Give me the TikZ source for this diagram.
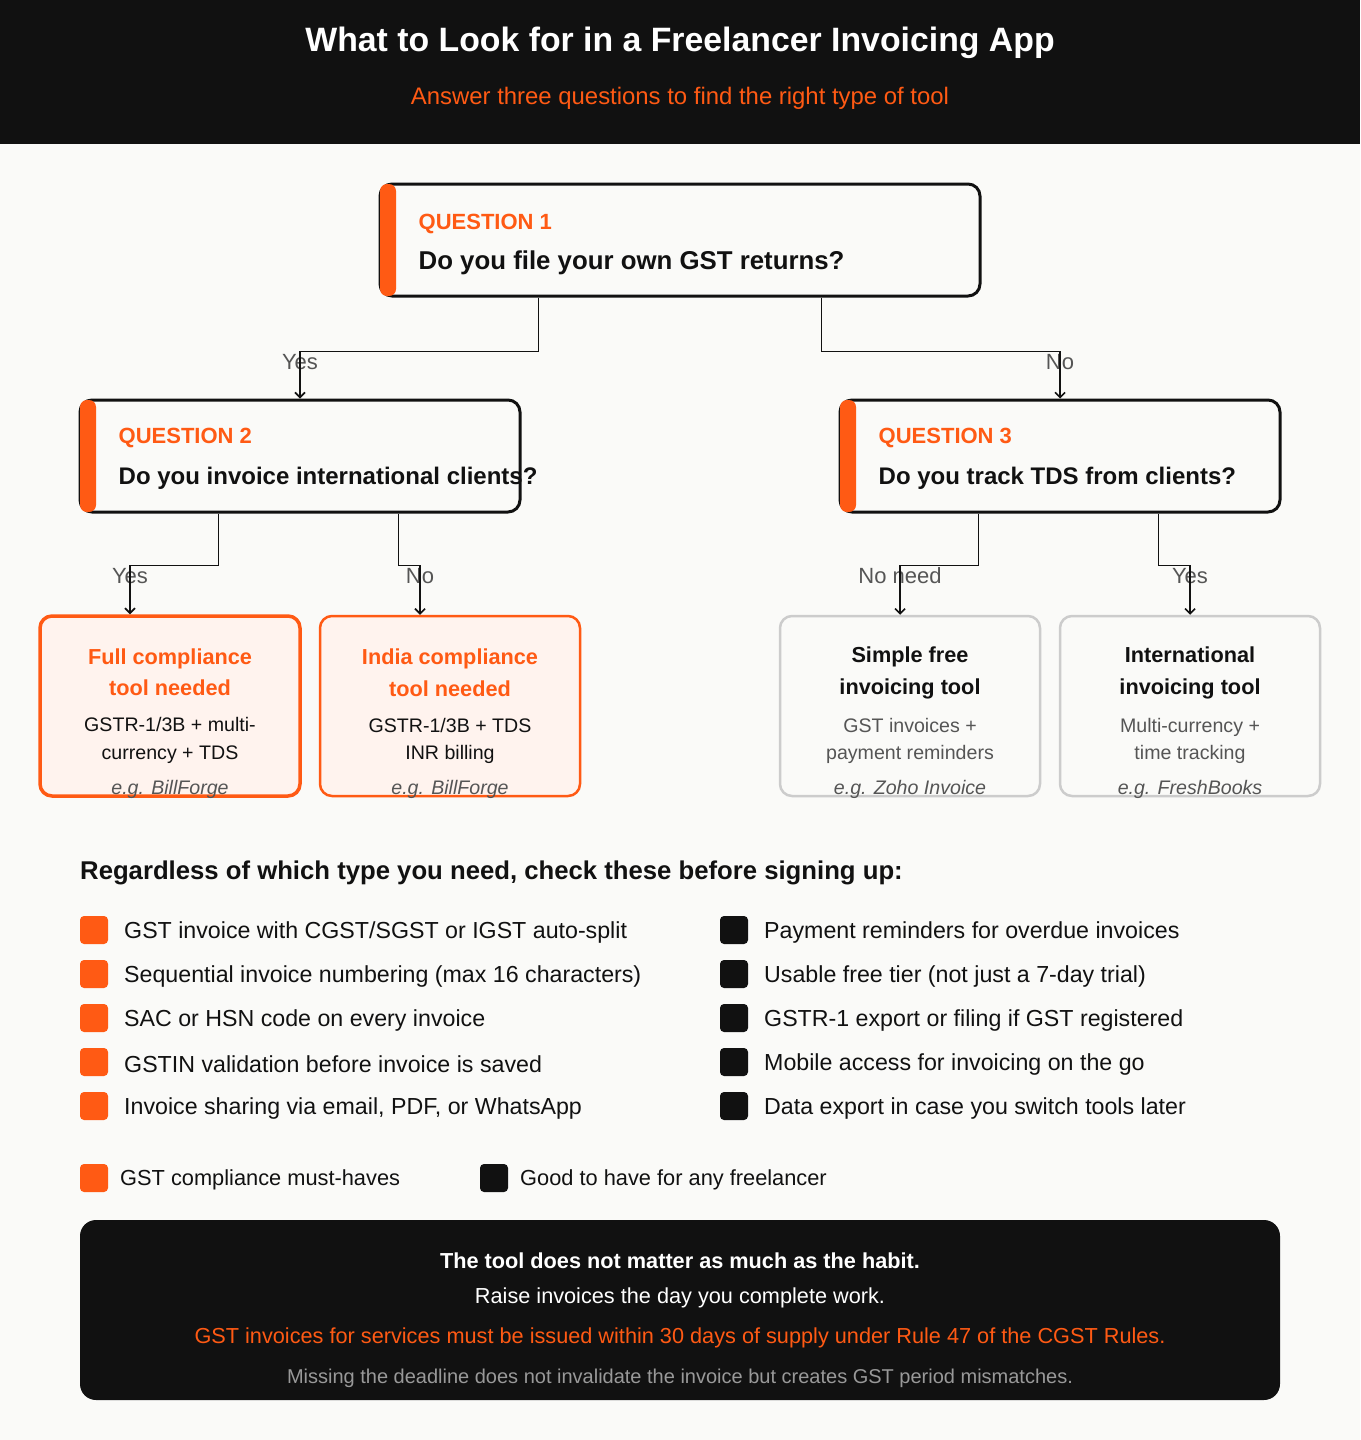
\documentclass[tikz,border=0pt]{standalone}
\usepackage{fontspec}
\setmainfont{Liberation Sans}
\usetikzlibrary{calc,arrows.meta}
\definecolor{brand}{HTML}{FF5A14}
\definecolor{ink}{HTML}{111111}
\definecolor{paper}{HTML}{FAFAF8}
\definecolor{blush}{HTML}{FFF3EE}
\definecolor{mute}{HTML}{555555}
\definecolor{edge}{HTML}{CCCCCC}
\newcommand{\fs}[1]{\fontsize{#1}{#1}\selectfont}
\tikzset{
  qbox/.style={draw=ink, line width=3pt, rounded corners=12pt, fill=paper, minimum width=600pt, minimum height=112pt, inner sep=0pt},
  rbox/.style={rounded corners=12pt, minimum width=260pt, minimum height=180pt, inner sep=0pt},
  conn/.style={draw=ink, line width=1.6pt, -{Straight Barb[length=5pt,width=10pt]}},
  lbl/.style={text=mute, font=\fs{22}},
  tick/.style={rounded corners=4pt, minimum size=28pt, inner sep=0pt},
  item/.style={anchor=west, font=\fs{23.2}, text=ink, inner sep=0pt}
}
\begin{document}
\begin{tikzpicture}[x=1pt,y=-1pt]
\useasboundingbox[fill=paper] (0,0) rectangle (1360,1440);
% header
\fill[ink] (0,0) rectangle (1360,144);
\node[font=\bfseries\fs{33.8}, text=white] (title) at (680,43) {What to Look for in a Freelancer Invoicing App};
\node[font=\fs{23.9}, text=brand] (sub) at (680,98) {Answer three questions to find the right type of tool};
% questions
\node[qbox] (q1) at (680,240) {};
\node[qbox, minimum width=440pt] (q2) at (300,456) {};
\node[qbox, minimum width=440pt] (q3) at (1060,456) {};
\fill[brand, rounded corners=7pt] (380,184) rectangle (396,296);
\fill[brand, rounded corners=7pt] (80,400) rectangle (96,512);
\fill[brand, rounded corners=7pt] (840,400) rectangle (856,512);
\node[item, font=\bfseries\fs{22}, text=brand] (q1tag) at ($(q1.west)+(40,-16)$) {QUESTION 1};
\node[item, font=\bfseries\fs{25.8}] (q1txt) at ($(q1.west)+(40,23)$) {Do you file your own GST returns?};
\node[item, font=\bfseries\fs{22}, text=brand] (q2tag) at ($(q2.west)+(40,-18)$) {QUESTION 2};
\node[item, font=\bfseries\fs{24}] (q2txt) at ($(q2.west)+(40,22)$) {Do you invoice international clients?};
\node[item, font=\bfseries\fs{22}, text=brand] (q3tag) at ($(q3.west)+(40,-18)$) {QUESTION 3};
\node[item, font=\bfseries\fs{24}] (q3txt) at ($(q3.west)+(40,22)$) {Do you track TDS from clients?};
% results
\node[rbox, draw=brand, line width=3.5pt, fill=blush] (full) at (170,706) {};
\node[rbox, draw=brand, line width=2.5pt, fill=blush] (india) at (450,706) {};
\node[rbox, draw=edge, line width=2.5pt, fill=paper] (free) at (910,706) {};
\node[rbox, draw=edge, line width=2.5pt, fill=paper] (intl) at (1190,706) {};
\node[align=center, font=\bfseries\fs{21.7}, text=brand, inner sep=0pt] at ($(full.north)+(0,58)$) {Full compliance\\[10pt]tool needed};
\node[align=center, font=\bfseries\fs{21.7}, text=brand, inner sep=0pt] at ($(india.north)+(0,58)$) {India compliance\\[10pt]tool needed};
\node[align=center, font=\bfseries\fs{21.7}, text=ink, inner sep=0pt] at ($(free.north)+(0,58)$) {Simple free\\[10pt]invoicing tool};
\node[align=center, font=\bfseries\fs{21.7}, text=ink, inner sep=0pt] at ($(intl.north)+(0,58)$) {International\\[10pt]invoicing tool};
\node[align=center, font=\fs{19.6}, text=ink, inner sep=0pt] at ($(full.north)+(0,126)$) {GSTR-1/3B + multi-\\[8pt]currency + TDS};
\node[align=center, font=\fs{19.6}, text=ink, inner sep=0pt] at ($(india.north)+(0,126)$) {GSTR-1/3B + TDS\\[8pt]INR billing};
\node[align=center, font=\fs{19.6}, text=mute, inner sep=0pt] at ($(free.north)+(0,126)$) {GST invoices +\\[8pt]payment reminders};
\node[align=center, font=\fs{19.6}, text=mute, inner sep=0pt] at ($(intl.north)+(0,126)$) {Multi-currency +\\[8pt]time tracking};
\node[font=\itshape\fs{19.6}, text=mute] at ($(full.south)+(0,-8)$) {e.g. BillForge};
\node[font=\itshape\fs{19.6}, text=mute] at ($(india.south)+(0,-8)$) {e.g. BillForge};
\node[font=\itshape\fs{19.6}, text=mute] at ($(free.south)+(0,-8)$) {e.g. Zoho Invoice};
\node[font=\itshape\fs{19.6}, text=mute] at ($(intl.south)+(0,-8)$) {e.g. FreshBooks};
% connectors
\node[lbl] at (300,362) {Yes};
\node[lbl] at (1060,362) {No};
\node[lbl] at (130,576) {Yes};
\node[lbl] at (420,576) {No};
\node[lbl] at (900,576) {No need};
\node[lbl] at (1190,576) {Yes};
\draw[conn] ($(q1.south west)+(160,0)$) -- ++(0,54) -| (q2.north);
\draw[conn] ($(q1.south east)+(-160,0)$) -- ++(0,54) -| (q3.north);
\draw[conn] ($(q2.south west)+(140,0)$) -- ++(0,52) -| (full.north -| 130,0);
\draw[conn] ($(q2.south west)+(320,0)$) -- ++(0,52) -| (india.north -| 420,0);
\draw[conn] ($(q3.south west)+(140,0)$) -- ++(0,52) -| (free.north -| 900,0);
\draw[conn] ($(q3.south west)+(320,0)$) -- ++(0,52) -| (intl.north -| 1190,0);
% checklist
\node[item, font=\bfseries\fs{25.7}] (head) at (80,873) {Regardless of which type you need, check these before signing up:};
\foreach \y/\txt in {930/{GST invoice with CGST/SGST or IGST auto-split},
  974/{Sequential invoice numbering (max 16 characters)},
  1018/{SAC or HSN code on every invoice},
  1062/{GSTIN validation before invoice is saved},
  1106/{Invoice sharing via email, PDF, or WhatsApp}}{
  \node[tick, fill=brand] at (94,\y) {};
  \node[item] at (124,\y+2) {\txt};
}
\foreach \y/\txt in {930/{Payment reminders for overdue invoices},
  974/{Usable free tier (not just a 7-day trial)},
  1018/{GSTR-1 export or filing if GST registered},
  1062/{Mobile access for invoicing on the go},
  1106/{Data export in case you switch tools later}}{
  \node[tick, fill=ink] at (734,\y) {};
  \node[item] at (764,\y+2) {\txt};
}
% legend
\node[tick, fill=brand] (kgst) at (94,1178) {};
\node[item, font=\fs{21.8}] at (120,1180) {GST compliance must-haves};
\node[tick, fill=ink] (kgood) at (494,1178) {};
\node[item, font=\fs{21.8}] at (520,1180) {Good to have for any freelancer};
% footer
\fill[ink, rounded corners=16pt] (80,1220) rectangle (1280,1400);
\node[font=\bfseries\fs{21.7}, text=white] at (680,1261) {The tool does not matter as much as the habit.};
\node[font=\fs{21.7}, text=white] at (680,1298) {Raise invoices the day you complete work.};
\node[font=\fs{21.7}, text=brand] at (680,1338) {GST invoices for services must be issued within 30 days of supply under Rule 47 of the CGST Rules.};
\node[font=\fs{20}, text=gray!80] at (680,1378) {Missing the deadline does not invalidate the invoice but creates GST period mismatches.};
\end{tikzpicture}
\end{document}
